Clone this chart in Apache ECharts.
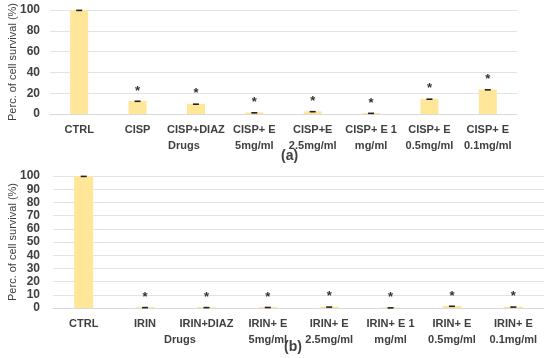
<!DOCTYPE html>
<html><head><meta charset="utf-8">
<script src="https://cdn.jsdelivr.net/npm/echarts@6/dist/echarts.min.js"></script>
<style>html,body{margin:0;padding:0;background:#fff}#c{width:550px;height:358px}</style>
</head><body><div id="c"></div>
<script>
const catsA = ['CTRL','CISP','CISP+DIAZ','CISP+ E\n5mg/ml','CISP+E\n2.5mg/ml','CISP+ E 1\nmg/ml','CISP+ E\n0.5mg/ml','CISP+ E\n0.1mg/ml'];
const valsA = [100, 12.6, 9.8, 1.5, 2.6, 1.0, 14.6, 23.6];
const errA  = [0.4, 0.4, 0.4, 0.4, 0.4, 0.4, 0.4, 0.4];
const starA = ['', '*', '*', '*', '*', '*', '*', '*'];
const catsB = ['CTRL','IRIN','IRIN+DIAZ','IRIN+ E\n5mg/ml','IRIN+ E\n2.5mg/ml','IRIN+ E 1\nmg/ml','IRIN+ E\n0.5mg/ml','IRIN+ E\n0.1mg/ml'];
const valsB = [100, 0.6, 0.6, 0.7, 1.0, 0.4, 1.6, 1.0];
const errB  = [0.3, 0.3, 0.3, 0.3, 0.3, 0.3, 0.3, 0.3];
const starB = ['', '*', '*', '*', '*', '*', '*', '*'];
const yTitle = 'Perc. of cell survival (%)';

const FONT = '"Liberation Sans", Arial, sans-serif';
const TXT = '#404040';
const BAR = '#FFE699';

function errSeries(xi, yi, vals, errs, stars) {
  return {
    type: 'custom', xAxisIndex: xi, yAxisIndex: yi, z: 10,
    data: vals.map((v, i) => [i, v, errs[i], stars[i]]),
    renderItem: function (params, api) {
      const x = api.value(0), v = api.value(1), e = api.value(2), s = api.value(3);
      const top = api.coord([x, v + e]);
      const bot = api.coord([x, v - e]);
      const w = 3;
      const ch = [
        {type: 'rect', shape: {x: top[0] - w, y: top[1], width: 2 * w, height: Math.max(1.6, bot[1] - top[1])},
         style: {fill: '#222'}}
      ];
      if (s) ch.push({type: 'text', style: {text: s, x: top[0], y: top[1] - 3, align: 'center', verticalAlign: 'bottom',
        font: 'bold 13px ' + FONT, fill: '#333'}});
      return {type: 'group', children: ch};
    }
  };
}

const chart = echarts.init(document.getElementById('c'), null, {renderer: 'canvas'});
const xLab = {color: TXT, fontFamily: FONT, fontWeight: 'bold', fontSize: 11, lineHeight: 16, margin: 8, interval: 0};
const yLab = {color: TXT, fontFamily: FONT, fontWeight: 'bold', fontSize: 12, lineHeight: 12,
  showMinLabel: true, showMaxLabel: true, hideOverlap: false};
chart.setOption({
  animation: false,
  grid: [
    {left: 50, right: 33, top: 10, height: 104, containLabel: false, outerBoundsMode: 'none'},
    {left: 53, right: 6, top: 176, height: 132, containLabel: false, outerBoundsMode: 'none'}
  ],
  xAxis: [
    {gridIndex: 0, type: 'category', data: catsA, axisTick: {show: false},
     axisLine: {lineStyle: {color: '#d9d9d9'}}, axisLabel: xLab},
    {gridIndex: 1, type: 'category', data: catsB, axisTick: {show: false},
     axisLine: {lineStyle: {color: '#d9d9d9'}}, axisLabel: xLab}
  ],
  yAxis: [
    {gridIndex: 0, type: 'value', min: 0, max: 100, interval: 20,
     axisLabel: Object.assign({margin: 10}, yLab),
     splitLine: {lineStyle: {color: '#e3e3e3'}}, axisLine: {show: false}, axisTick: {show: false},
     name: yTitle, nameLocation: 'middle', nameGap: 32, nameRotate: 90, nameMoveOverlap: false,
     nameTextStyle: {color: TXT, fontFamily: FONT, fontSize: 11}},
    {gridIndex: 1, type: 'value', min: 0, max: 100, interval: 10,
     axisLabel: Object.assign({margin: 13}, yLab),
     splitLine: {lineStyle: {color: '#e3e3e3'}}, axisLine: {show: false}, axisTick: {show: false},
     name: yTitle, nameLocation: 'middle', nameGap: 35, nameRotate: 90, nameMoveOverlap: false,
     nameTextStyle: {color: TXT, fontFamily: FONT, fontSize: 11}}
  ],
  series: [
    {type: 'bar', xAxisIndex: 0, yAxisIndex: 0, data: valsA, barWidth: 18, itemStyle: {color: BAR}},
    {type: 'bar', xAxisIndex: 1, yAxisIndex: 1, data: valsB, barWidth: 19, itemStyle: {color: BAR}},
    errSeries(0, 0, valsA, errA, starA),
    errSeries(1, 1, valsB, errB, starB)
  ],
  graphic: [
    {type: 'text', left: 168, top: 140, style: {text: 'Drugs', font: 'bold 11px ' + FONT, fill: TXT}},
    {type: 'text', left: 281, top: 149, style: {text: '(a)', font: 'bold 14px ' + FONT, fill: TXT}},
    {type: 'text', left: 164, top: 334, style: {text: 'Drugs', font: 'bold 11px ' + FONT, fill: TXT}},
    {type: 'text', left: 284, top: 340, style: {text: '(b)', font: 'bold 14px ' + FONT, fill: TXT}}
  ]
});
</script></body></html>
